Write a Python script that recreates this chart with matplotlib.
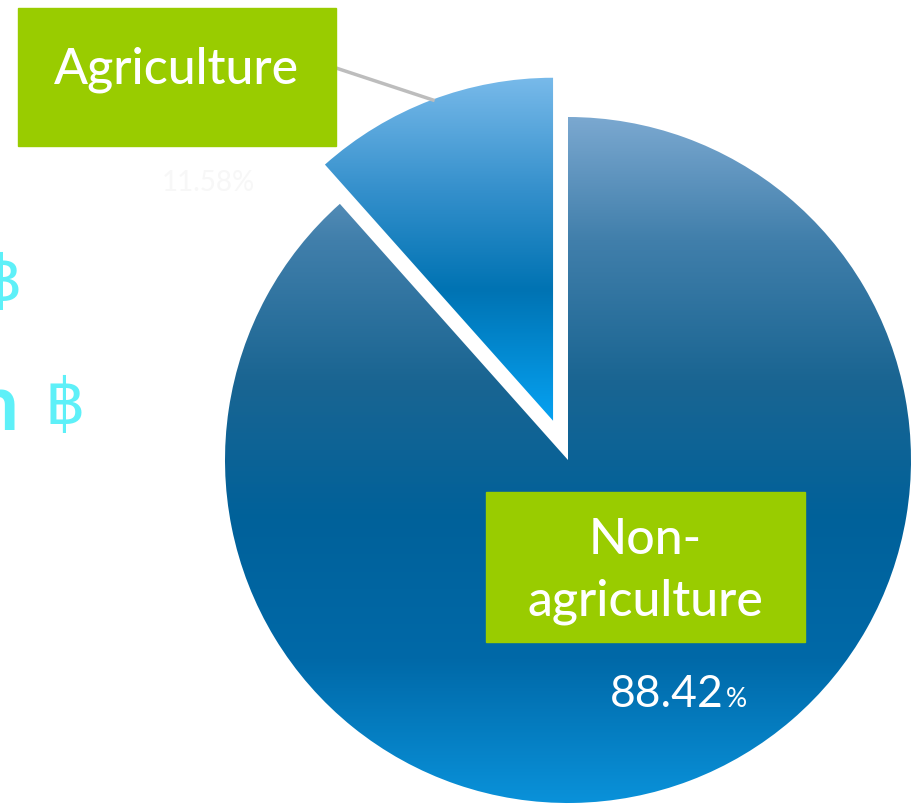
import numpy as np
import matplotlib
matplotlib.use("Agg")
import matplotlib.pyplot as plt
from matplotlib.colors import to_rgb

# data
labels = ["Agriculture", "Non-agriculture"]
shares = [11.58, 88.42]

W, H = 912, 805

# gradient stops (pixel row from top, colour) for each slice
grad_agri = [(78, "#78baea"), (190, "#3590cc"), (290, "#0073b3"), (422, "#06a2f2")]
grad_non = [(115, "#7ca9d1"), (240, "#417fab"), (380, "#1a6592"), (520, "#00619a"),
            (660, "#0069a8"), (805, "#0a92da")]


def gradient(stops, top, bottom, n=400):
    ys = np.linspace(top, bottom, n)
    pos = [s[0] for s in stops]
    cols = np.array([to_rgb(s[1]) for s in stops])
    img = np.stack([np.interp(ys, pos, cols[:, k]) for k in range(3)], axis=-1)
    return img[:, None, :]


fig = plt.figure(figsize=(W / 100, H / 100), dpi=100)
ax = fig.add_axes([0, 0, 1, 1])

cx, cy, r = 568, H - 460, 343
# explode is given in data units here (pie does not scale it by radius)
wedges, _ = ax.pie(shares, explode=[42, 0], startangle=90, radius=r,
                   center=(cx, cy), wedgeprops=dict(linewidth=0))

for w, stops in zip(wedges, [grad_agri, grad_non]):
    w.set_facecolor("none")
    top, bottom = stops[0][0], stops[-1][0]
    im = ax.imshow(gradient(stops, top - 5, bottom + 5), extent=(150, W, H - bottom - 5, H - top + 5),
                   aspect="auto", origin="upper", interpolation="bilinear", zorder=1)
    im.set_clip_path(w)

ax.set_xlim(0, W)
ax.set_ylim(0, H)
ax.set_aspect("auto")
ax.set_axis_off()

green = "#99cc00"
font = ["Lato", "DejaVu Sans"]

# Agriculture label box + leader line
ax.plot([336, 433], [H - 68, H - 100], color="#bdbdbd", lw=2.5, zorder=2)
ax.add_patch(plt.Rectangle((18, H - 146), 318, 138, color=green, zorder=3))
ax.text(177, H - 70, labels[0], color="white", fontsize=36, family=font, weight=500,
        ha="center", va="center", zorder=4)

# Non-agriculture label box
ax.add_patch(plt.Rectangle((486, H - 642), 319, 150, color=green, zorder=3))
ax.text(645, H - 540, "Non-", color="white", fontsize=36, family=font, weight=500,
        ha="center", va="center", zorder=4)
ax.text(645, H - 602, "agriculture", color="white", fontsize=36, family=font, weight=500,
        ha="center", va="center", zorder=4)

# percentages
ax.text(724, H - 707, "%.2f" % shares[1], color="white", fontsize=32, family=font,
        ha="right", va="baseline", zorder=4)
ax.text(726, H - 707, "%", color="white", fontsize=19, family=font,
        ha="left", va="baseline", zorder=4)
ax.text(208, H - 183, "%.2f%%" % shares[0], color="#f7f7f7", fontsize=20, family=font,
        ha="center", va="center", zorder=4)

# cyan amounts cut off at the left edge
cyan = "#5ef0f8"
ax.text(22, H - 283, "\u0e3f", color=cyan, fontsize=46, family=["DejaVu Sans"],
        ha="right", va="center")
ax.text(18, H - 408, "n", color=cyan, fontsize=56, family=font, weight="bold",
        ha="right", va="center")
ax.text(45, H - 406, "\u0e3f", color=cyan, fontsize=46, family=["DejaVu Sans"],
        ha="left", va="center")

fig.savefig("out.png", dpi=100)
